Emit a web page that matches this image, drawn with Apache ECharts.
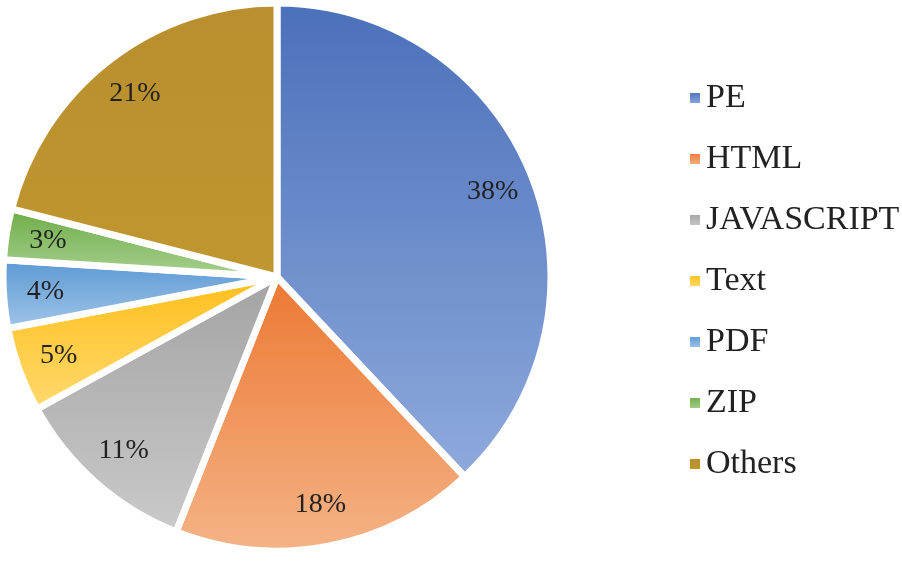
<!DOCTYPE html>
<html>
<head>
<meta charset="utf-8">
<title>File types</title>
<script src="https://cdn.jsdelivr.net/npm/echarts@6/dist/echarts.min.js"></script>
<style>
  html, body { margin: 0; padding: 0; background: #fff; }
  #main { width: 902px; height: 573px; }
</style>
</head>
<body>
<div id="main"></div>
<script>
// data
var categories = ['PE', 'HTML', 'JAVASCRIPT', 'Text', 'PDF', 'ZIP', 'Others'];
var shares = [38, 18, 11, 5, 4, 3, 21];
// gradient colours per slice, top -> bottom
var colorTop = ['#4a70ba', '#ec7832', '#a3a3a3', '#ffbe1a', '#5a97d4', '#6cab45', '#b98f2f'];
var colorBottom = ['#8faadc', '#f4b487', '#cacaca', '#ffda70', '#a2c6e8', '#aad292', '#c0962f'];

var myChart = echarts.init(document.getElementById('main'));

function grad(i) {
    return new echarts.graphic.LinearGradient(0, 0, 0, 1, [
        { offset: 0, color: colorTop[i] },
        { offset: 1, color: colorBottom[i] }
    ]);
}

var pieData = categories.map(function (name, i) {
    return { name: name, value: shares[i], itemStyle: { color: grad(i) } };
});
var labelData = categories.map(function (name, i) {
    return { name: name, value: shares[i] };
});

var serif = '"Liberation Serif", "DejaVu Serif", serif';

myChart.setOption({
    animation: false,
    legend: {
        orient: 'vertical',
        left: 683,
        top: 76,
        itemWidth: 12,
        itemHeight: 12,
        itemGap: 27,
        icon: 'rect',
        selectedMode: false,
        data: categories,
        textStyle: { fontFamily: serif, fontSize: 34, color: '#222', lineHeight: 34 }
    },
    series: [{
        type: 'pie',
        center: [277, 277],
        radius: [0, 274],
        startAngle: 90,
        clockwise: true,
        silent: true,
        itemStyle: { borderColor: '#fff', borderWidth: 7 },
        label: { show: false },
        labelLine: { show: false },
        data: pieData
    }, {
        // transparent ring that only carries the percent labels
        type: 'pie',
        center: [277, 277],
        radius: [186, 272],
        startAngle: 90,
        clockwise: true,
        silent: true,
        itemStyle: { color: 'rgba(0,0,0,0)' },
        label: {
            show: true,
            position: 'inside',
            formatter: '{c}%',
            fontFamily: serif,
            fontSize: 28,
            color: '#222'
        },
        labelLine: { show: false },
        data: labelData
    }]
});
</script>
</body>
</html>
